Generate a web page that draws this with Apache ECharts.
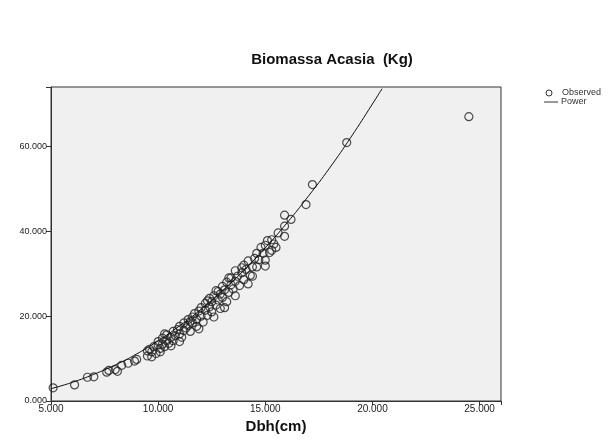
<!DOCTYPE html>
<html>
<head>
<meta charset="utf-8">
<script src="https://cdn.jsdelivr.net/npm/echarts@6/dist/echarts.min.js"></script>
<style>html,body{margin:0;padding:0;background:#fff}#c{width:615px;height:445px}</style>
</head>
<body>
<div id="c"></div>
<script>
// Observed data: Dbh (cm) and Biomass (Kg)
const obsDbh = [5.1,6.1,6.7,7.0,7.6,7.7,8.0,8.1,8.3,8.6,8.9,9.0,
 9.5,9.5,9.6,9.7,9.7,9.8,9.9,10.0,10.0,10.1,10.1,10.2,10.2,10.3,10.3,10.4,10.4,10.5,
 10.6,10.6,10.7,10.7,10.8,10.9,11.0,11.0,11.0,11.1,11.2,11.2,11.3,11.4,11.4,11.5,11.5,
 11.6,11.6,11.7,11.8,11.8,11.9,11.9,12.0,12.0,12.1,12.2,12.2,12.3,12.3,12.4,12.4,12.5,12.5,
 12.6,12.6,12.7,12.7,12.8,12.8,12.9,12.9,13.0,13.0,13.1,13.1,13.2,13.2,13.3,13.3,13.4,13.4,13.5,
 13.6,13.6,13.6,13.7,13.8,13.9,13.9,14.0,14.0,14.1,14.2,14.2,14.3,14.4,14.4,14.5,
 14.6,14.6,14.7,14.8,14.9,15.0,15.0,15.0,15.1,15.2,15.3,15.3,15.4,15.5,
 15.6,15.9,15.9,15.9,16.2,16.9,17.2,18.8,24.5];
const obsBiomass = [3.1,3.8,5.6,5.7,6.8,7.2,7.4,7.0,8.4,8.9,9.4,9.8,
 10.6,11.8,12.2,11.6,10.4,12.8,11.2,13.2,14.0,12.4,11.6,13.4,14.8,12.8,15.8,14.2,15.6,13.6,
 15.0,13.0,16.4,14.2,15.4,16.8,15.8,17.6,14.0,15.0,18.4,16.6,17.2,19.2,17.8,16.4,18.8,
 19.8,18.4,20.6,19.2,17.6,21.2,17.0,20.0,22.0,18.6,21.4,23.0,20.2,23.6,22.2,24.2,21.0,23.4,
 24.8,19.8,22.6,26.0,23.8,25.8,25.2,21.8,27.0,24.4,26.2,22.0,28.0,23.4,25.6,29.0,27.4,29.0,26.4,
 28.2,30.7,24.8,29.4,27.2,30.2,31.4,32.0,28.6,31.0,33.0,27.6,29.6,31.6,29.4,33.6,
 34.8,31.6,33.3,36.2,34.8,36.7,33.2,31.8,37.8,35.0,38.0,35.5,37.0,36.2,
 39.6,43.8,41.2,38.8,42.8,46.3,51.0,60.9,67.0];
// Power fit line
const fitDbh = [5,6,7,8,9,10,11,12,13,14,15,16,17,18,19,20,20.45];
const fitBiomass = [2.9,4.4,6.3,8.5,11.1,14.2,17.7,21.6,26.0,30.8,36.1,41.9,48.2,54.9,62.2,70.0,73.6];
const xTicks = [5,10,15,20,25];
const yTicks = [0,20,40,60];
const titleText = 'Biomassa Acasia  (Kg)';
const legendNames = ['Observed', 'Power'];

const chart = echarts.init(document.getElementById('c'), null, {renderer:'canvas'});
const fontF = '"Liberation Sans", Arial, sans-serif';
chart.setOption({
  animation: false,
  backgroundColor: '#fff',
  graphic: [
    {type: 'text', x: 332, y: 60, style: {text: titleText, fill: '#111',
      font: 'bold 15px ' + fontF, textAlign: 'center', textVerticalAlign: 'middle'}},
    {type: 'circle', shape: {cx: 549, cy: 93, r: 3}, style: {fill: 'none', stroke: '#333', lineWidth: 1}},
    {type: 'text', x: 562, y: 93, style: {text: legendNames[0], fill: '#333',
      font: '9px ' + fontF, textAlign: 'left', textVerticalAlign: 'middle'}},
    {type: 'line', shape: {x1: 544, y1: 102, x2: 558, y2: 102}, style: {stroke: '#333', lineWidth: 1}},
    {type: 'text', x: 561, y: 102, style: {text: legendNames[1], fill: '#333',
      font: '9px ' + fontF, textAlign: 'left', textVerticalAlign: 'middle'}}
  ],
  grid: {
    left: 51, right: 114, top: 87, bottom: 44,
    show: true, backgroundColor: '#f0f0f0', borderColor: '#333', borderWidth: 1
  },
  xAxis: {
    type: 'value', min: 5, max: 26, interval: 5,
    name: 'Dbh(cm)', nameLocation: 'middle', nameGap: 10,
    nameTextStyle: {fontFamily: fontF, fontSize: 15, fontWeight: 'bold', color: '#111', verticalAlign: 'top'},
    axisLine: {onZero: false, lineStyle: {color: '#333'}},
    axisTick: {show: true, length: 4, lineStyle: {color: '#333'}},
    splitLine: {show: false},
    axisLabel: {fontFamily: fontF, fontSize: 10, color: '#222', margin: 3,
      formatter: v => xTicks.includes(v) ? v.toFixed(3) : ''}
  },
  yAxis: {
    type: 'value', min: 0, max: 74, interval: 20,
    axisLine: {show: true, onZero: false, lineStyle: {color: '#333'}},
    axisTick: {show: true, length: 5, lineStyle: {color: '#333'}},
    splitLine: {show: false},
    axisLabel: {fontFamily: fontF, fontSize: 9, color: '#222', margin: 4,
      formatter: v => yTicks.includes(v) ? v.toFixed(3) : ''}
  },
  series: [
    {
      name: 'Observed', type: 'scatter', symbol: 'circle', symbolSize: 8,
      itemStyle: {color: 'rgba(0,0,0,0)', borderColor: '#222', borderWidth: 1.2},
      data: obsDbh.map((x, i) => [x, obsBiomass[i]]), z: 3
    },
    {
      name: 'Power', type: 'line', smooth: true, symbol: 'none', showSymbol: false,
      lineStyle: {color: '#111', width: 1}, itemStyle: {color: '#111'},
      data: fitDbh.map((x, i) => [x, fitBiomass[i]]), z: 4
    }
  ]
});
</script>
</body>
</html>
